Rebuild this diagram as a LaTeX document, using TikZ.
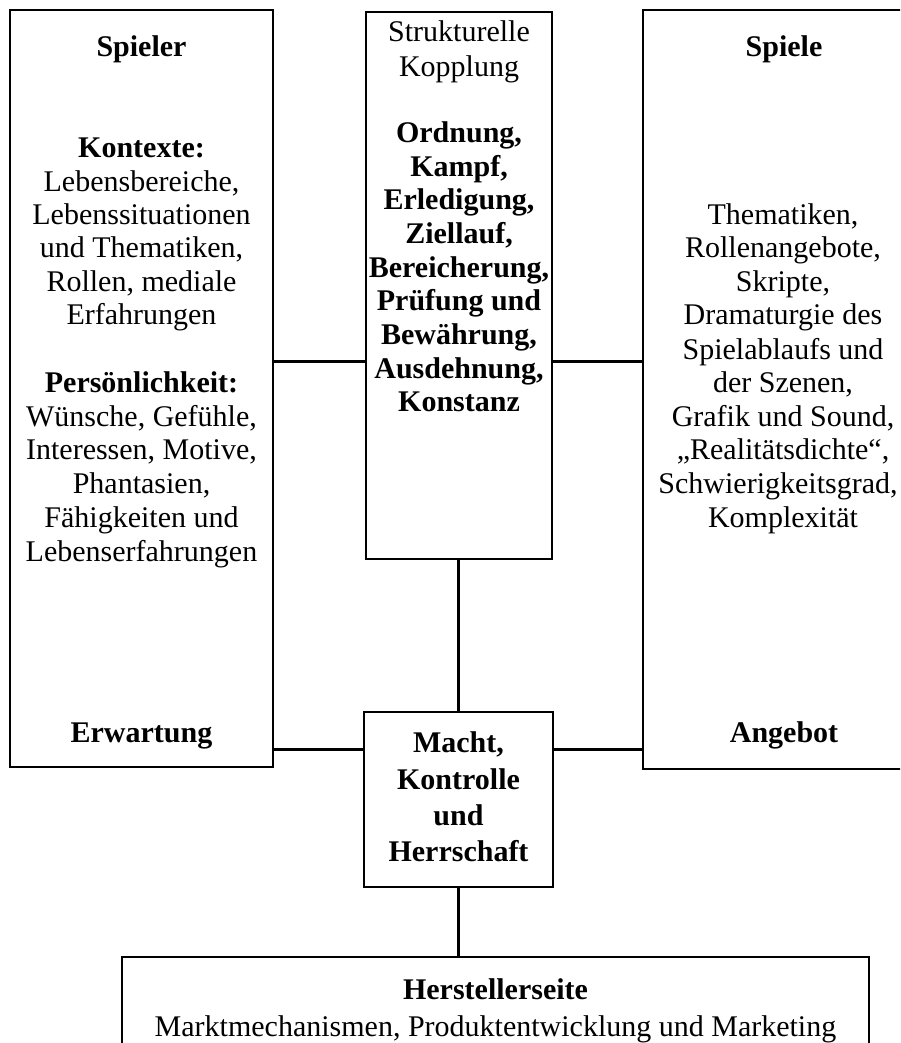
\documentclass[tikz,border=0pt]{standalone}
\usepackage{fontspec}
\setmainfont{Liberation Serif}
\begin{document}
\begin{tikzpicture}[x=1pt,y=-1pt,
  box/.style={draw, line width=1.6pt, rectangle, inner sep=0pt},
  conn/.style={line width=3pt},
  txt/.style={font=\fontsize{30}{34}\selectfont, anchor=mid, inner sep=0pt, yshift=-7pt},
  btxt/.style={font=\fontsize{30}{34}\selectfont\bfseries, anchor=mid, inner sep=0pt, yshift=-7pt}]
\useasboundingbox (0,0) rectangle (900,1043);
\clip (0,0) rectangle (900,1043);
\fill[white] (0,0) rectangle (900,1043);
% boxes
\node[box, minimum width=263pt, minimum height=757pt] (spieler) at (141.5,388.5) {};
\node[box, minimum width=186pt, minimum height=547pt] (kopplung) at (459,285.5) {};
\node[box, minimum width=286pt, minimum height=759pt] (spiele) at (786,389.5) {};
\node[box, minimum width=189pt, minimum height=175pt] (macht) at (458.5,799.5) {};
\node[box, minimum width=747pt, minimum height=110pt] (hersteller) at (495.5,1012) {};
% connector levels
\coordinate (up) at (0,361);
\coordinate (low) at (0,749);
\draw[conn] (spieler.east |- up) -- (kopplung.west |- up);
\draw[conn] (kopplung.east |- up) -- (spiele.west |- up);
\draw[conn] (spieler.east |- low) -- (macht.west |- low);
\draw[conn] (macht.east |- low) -- (spiele.west |- low);
\draw[conn] (macht.north |- kopplung.south) -- (macht.north);
\draw[conn] (macht.south) -- (macht.south |- hersteller.north);
% left box text
\foreach \t/\y [count=\i] in {Spieler/47, Kontexte:/148, Persönlichkeit:/383, Erwartung/733}
  \node[btxt] (lb\i) at (141.5,\y) {\t};
\foreach \t/\y [count=\i] in {{Lebensbereiche,/182}, Lebenssituationen/215, {und Thematiken,/248},
  {Rollen, mediale/282}, Erfahrungen/315, {Wünsche, Gefühle,/417}, {Interessen, Motive,/450},
  {Phantasien,/484}, Fähigkeiten und/518, Lebenserfahrungen/552}
  \node[txt] (lr\i) at (141.5,\y) {\t};
% middle box text
\foreach \t/\y [count=\i] in {Strukturelle/32, Kopplung/67}
  \node[txt] (mr\i) at (459,\y) {\t};
\foreach \t/\y [count=\i] in {{Ordnung,/133}, {Kampf,/167}, {Erledigung,/200}, {Ziellauf,/234},
  {Bereicherung,/268}, Prüfung und/301, {Bewährung,/335}, {Ausdehnung,/369}, Konstanz/402}
  \node[btxt] (mb\i) at (459,\y) {\t};
% right box text
\foreach \t/\y [count=\i] in {Spiele/47, Angebot/733}
  \node[btxt] (rb\i) at (784,\y) {\t};
\foreach \t/\y/\x [count=\i] in {{Thematiken,/215/783}, {Rollenangebote,/248/783}, {Skripte,/282/783},
  Dramaturgie des/315/783, Spielablaufs und/350/783, {der Szenen,/383/783}, {Grafik und Sound,/417/783},
  {„Realitätsdichte“,/450/783}, {Schwierigkeitsgrad,/484/778}, Komplexität/518/783}
  \node[txt] (rr\i) at (\x,\y) {\t};
% Macht box text
\foreach \t/\y [count=\i] in {{Macht,/743}, Kontrolle/780, und/816, Herrschaft/852}
  \node[btxt] (mm\i) at (458.5,\y) {\t};
% bottom box text
\node[btxt] (h1) at (495.5,990) {Herstellerseite};
\node[txt] (h2) at (495.5,1027) {Marktmechanismen, Produktentwicklung und Marketing};
\end{tikzpicture}
\end{document}
